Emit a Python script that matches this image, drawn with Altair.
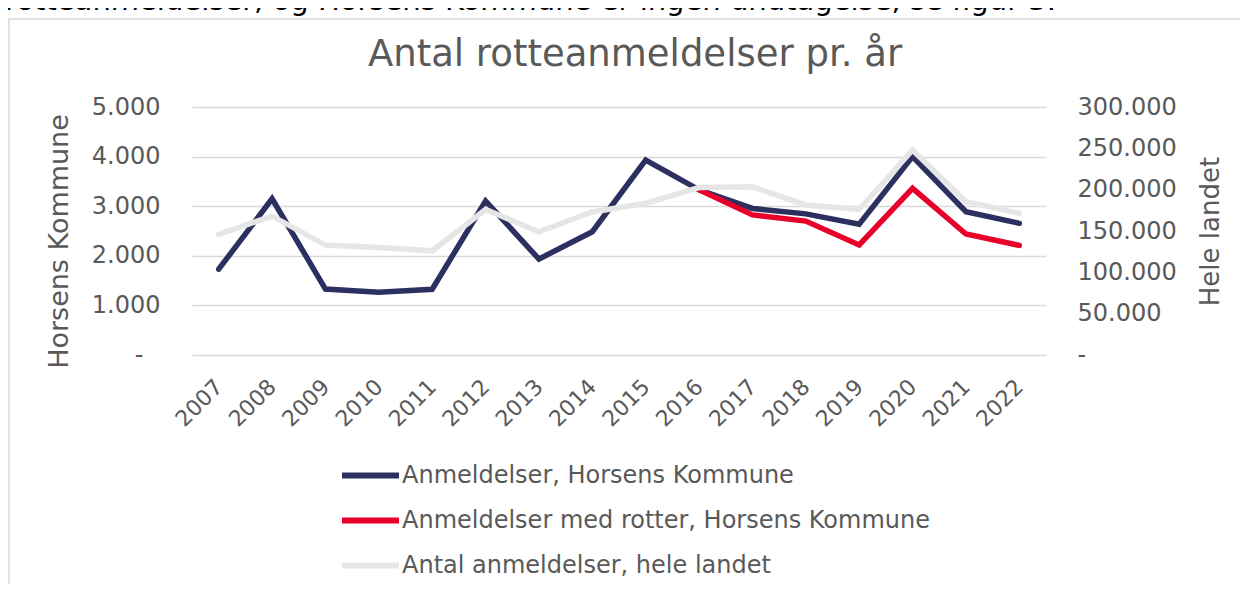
import altair as alt
import pandas as pd

years = [str(y) for y in range(2007, 2023)]
horsens = [1730, 3150, 1330, 1265, 1325, 3105, 1935, 2485, 3930, 3330, 2955, 2845, 2635, 4000, 2890, 2655]
med_rotter_years = ["2016", "2017", "2018", "2019", "2020", "2021", "2022"]
med_rotter = [3330, 2825, 2700, 2220, 3360, 2440, 2210]
hele_landet = [146000, 168000, 133000, 130000, 126000, 176000, 149000, 173000,
               183500, 202500, 203500, 181500, 176000, 248000, 185500, 171500]

s1 = "Anmeldelser, Horsens Kommune"
s2 = "Anmeldelser med rotter, Horsens Kommune"
s3 = "Antal anmeldelser, hele landet"
series_names = [s1, s2, s3]
series_colors = ["#2B3060", "#E8002A", "#E7E6E6"]

chart_title = "Antal rotteanmeldelser pr. år"
top_text = "rotteanmeldelser, og Horsens Kommune er ingen undtagelse, se figur 3."

left_df = pd.DataFrame({
    "year": years + med_rotter_years,
    "value": horsens + med_rotter,
    "series": [s1] * len(years) + [s2] * len(med_rotter_years),
    "order": [0] * len(years) + [1] * len(med_rotter_years),
})
right_df = pd.DataFrame({"year": years, "value": hele_landet, "series": [s3] * len(years)})

FONT = "DejaVu Sans"
TXT = "#595959"

color = alt.Color(
    "series:N",
    scale=alt.Scale(domain=series_names, range=series_colors),
    legend=alt.Legend(
        orient="none", legendX=147, legendY=337, title=None, direction="vertical",
        symbolType="stroke", symbolSize=3249, symbolStrokeWidth=6,
        labelFontSize=24, labelFont=FONT, labelColor=TXT, labelOffset=0, labelLimit=0,
        rowPadding=1,
    ),
)

xenc = alt.X(
    "year:O", sort=years, title=None,
    axis=alt.Axis(labelAngle=-45, labelAlign="right", labelBaseline="middle",
                  labelFontSize=22, labelFont=FONT, labelColor=TXT, labelPadding=28,
                  labelOffset=0, ticks=False, domain=False, grid=False),
)

left = alt.Chart(left_df).mark_line(strokeWidth=5.5, strokeCap="round").encode(
    x=xenc,
    y=alt.Y("value:Q", scale=alt.Scale(domain=[0, 5000]),
            axis=alt.Axis(title="Horsens Kommune", values=[0, 1000, 2000, 3000, 4000, 5000],
                          labelExpr="datum.value == 0 ? '-' : replace(format(datum.value, ',.0f'), ',', '.')",
                          labelFontSize=24, labelFont=FONT, labelColor=TXT,
                          labelPadding={"condition": {"test": "datum.value == 0", "value": 49}, "value": 32},
                          ticks=False, domain=False, grid=True, gridColor="#D9D9D9", gridWidth=1.5,
                          titleFontSize=27, titleFont=FONT, titleFontWeight="normal", titleColor=TXT,
                          titleAngle=270, titleBaseline="middle", titleX=-133, titleY=134)),
    color=color,
    detail="series:N",
    order="order:Q",
)

right = alt.Chart(right_df).mark_line(strokeWidth=5.5, strokeCap="round").encode(
    x=xenc,
    y=alt.Y("value:Q", scale=alt.Scale(domain=[0, 300000]),
            axis=alt.Axis(orient="right", title="Hele landet",
                          values=[0, 50000, 100000, 150000, 200000, 250000, 300000],
                          labelExpr="datum.value == 0 ? '-' : replace(format(datum.value, ',.0f'), ',', '.')",
                          labelFontSize=24, labelFont=FONT, labelColor=TXT, labelPadding=31,
                          ticks=False, domain=False, grid=False,
                          titleFontSize=26, titleFont=FONT, titleFontWeight="normal", titleColor=TXT,
                          titleAngle=270, titleBaseline="middle", titleX=164, titleY=124)),
    color=color,
)

frame = alt.Chart(pd.DataFrame({"a": [0]})).mark_rect(
    fill="white", fillOpacity=0, stroke="#D9D9D9", strokeWidth=1.5
).encode(x=alt.value(-183), x2=alt.value(1300), y=alt.value(-88), y2=alt.value(700))

top = alt.Chart(pd.DataFrame({"t": [top_text]})).mark_text(
    align="left", baseline="alphabetic", fontSize=29, font=FONT, color="#000000"
).encode(text="t:N", x=alt.value(-187), y=alt.value(-97))

title = alt.Chart(pd.DataFrame({"t": [chart_title]})).mark_text(
    align="center", baseline="alphabetic", fontSize=37, font=FONT, color=TXT
).encode(text="t:N", x=alt.value(443), y=alt.value(-41))

chart = alt.layer(frame, top, title, left, right).resolve_scale(y="independent").properties(
    width=854, height=248,
    autosize=alt.AutoSizeParams(type="none"),
    padding={"left": 184, "top": 99, "right": 194, "bottom": 229},
).configure_view(stroke=None)

chart.save("out.html", embed_options={"renderer": "svg", "actions": False})
